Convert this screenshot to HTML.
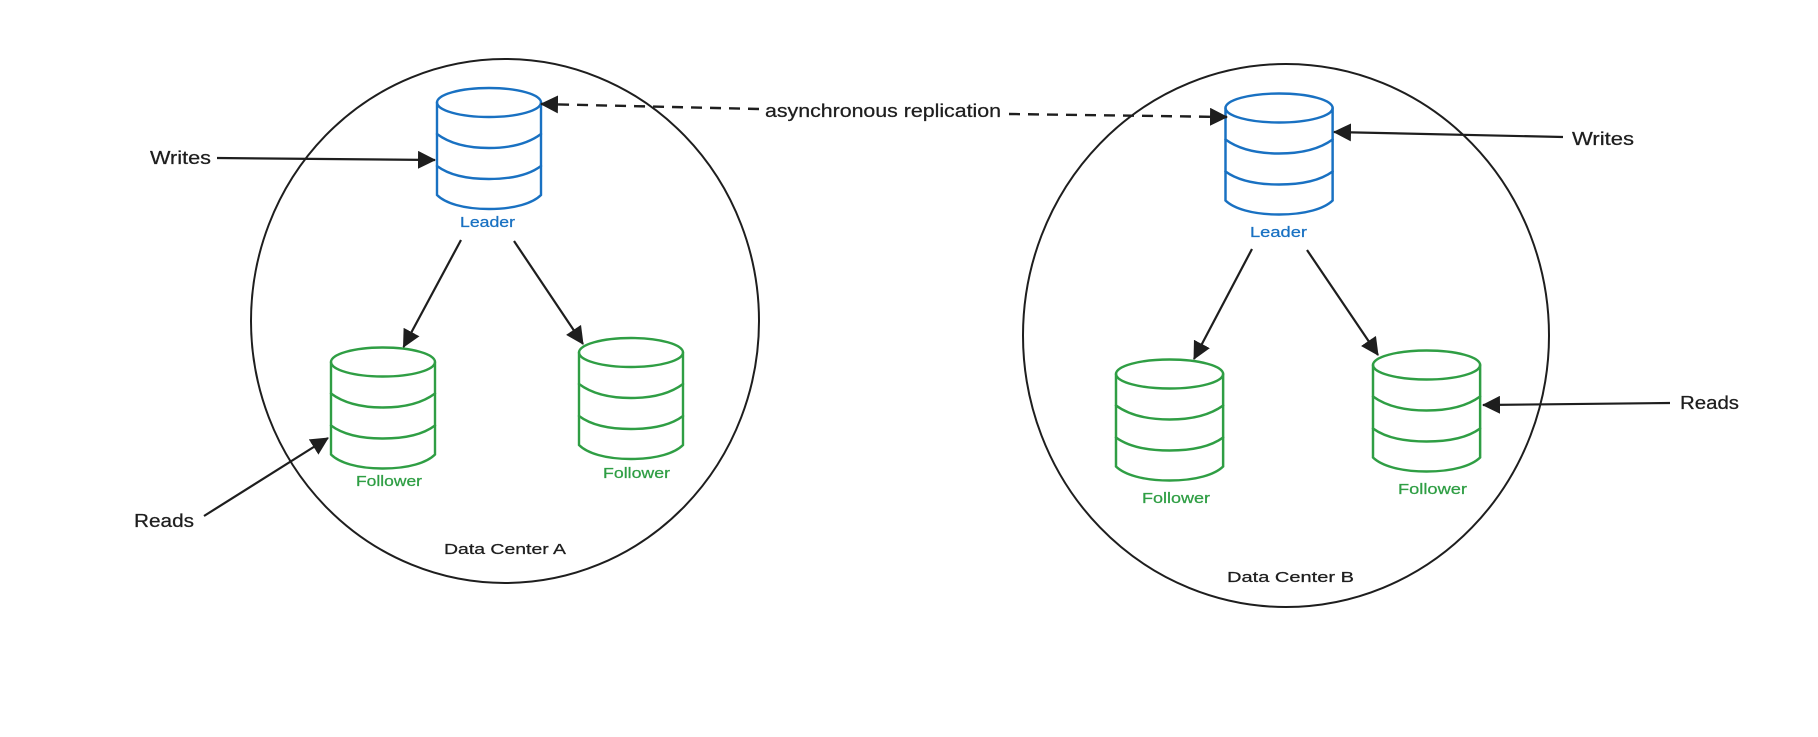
<!DOCTYPE html>
<html>
<head>
<meta charset="utf-8">
<style>
html,body{margin:0;padding:0;background:#fff;width:1818px;height:737px;overflow:hidden}
svg{display:block}
text{font-family:"Liberation Sans",sans-serif;fill:#1e1e1e;stroke:currentColor;stroke-width:.25px}
</style>
</head>
<body>
<svg xmlns="http://www.w3.org/2000/svg" width="1818" height="737" viewBox="0 0 1818 737">
<defs>
<marker id="a" markerUnits="userSpaceOnUse" markerWidth="19" markerHeight="18" refX="17" refY="9" orient="auto"><path d="M0 0L18 9L0 18Z" fill="#1e1e1e"/></marker>
<g id="cyl" fill="none" stroke-width="2.400" stroke-linecap="round">
<ellipse cx="52" cy="14.500" rx="52" ry="14.500"/>
<path d="M0 14.500V107C8 115 26 121 52 121C78 121 96 115 104 107V14.500"/>
<path d="M0 46C12 55 30 60 52 60C74 60 92 55 104 46"/>
<path d="M0 78C12 87 30 91 52 91C74 91 92 87 104 78"/>
</g>
</defs>
<g fill="none" stroke="#1e1e1e" stroke-width="2">
<ellipse cx="505" cy="321" rx="254" ry="262"/>
<ellipse cx="1286" cy="335.500" rx="263" ry="271.500"/>
</g>
<use href="#cyl" x="437" y="88" stroke="#1971c2"/>
<use href="#cyl" transform="translate(1225.500 93.500) scale(1.03 1)" stroke="#1971c2"/>
<use href="#cyl" x="331" y="347.500" stroke="#2f9e44"/>
<use href="#cyl" x="579" y="338" stroke="#2f9e44"/>
<use href="#cyl" transform="translate(1116 359.500) scale(1.03 1)" stroke="#2f9e44"/>
<use href="#cyl" transform="translate(1373 350.500) scale(1.03 1)" stroke="#2f9e44"/>
<g fill="none" stroke="#1e1e1e" stroke-width="2.200">
<path d="M217 158L435 160" marker-end="url(#a)"/>
<path d="M461 240L403.500 347" marker-end="url(#a)"/>
<path d="M514 241L583 344" marker-end="url(#a)"/>
<path d="M204 516L328 438" marker-end="url(#a)"/>
<path d="M1563 137L1334 132" marker-end="url(#a)"/>
<path d="M1252 249L1194 359" marker-end="url(#a)"/>
<path d="M1307 250L1378 355" marker-end="url(#a)"/>
<path d="M1670 403L1483 405" marker-end="url(#a)"/>
</g>
<g fill="none" stroke="#1e1e1e" stroke-width="2.400" stroke-dasharray="11 8">
<path d="M759 109L541 104" marker-end="url(#a)"/>
<path d="M1009 114L1227 117" marker-end="url(#a)"/>
</g>
<g font-size="18">
<text x="150" y="164" textLength="61" lengthAdjust="spacingAndGlyphs" style="color:#1e1e1e">Writes</text>
<text x="134" y="527" textLength="60" lengthAdjust="spacingAndGlyphs" style="color:#1e1e1e">Reads</text>
<text x="1572" y="145" textLength="62" lengthAdjust="spacingAndGlyphs" style="color:#1e1e1e">Writes</text>
<text x="1680" y="409" textLength="59" lengthAdjust="spacingAndGlyphs" style="color:#1e1e1e">Reads</text>
<text x="765" y="117" textLength="236" lengthAdjust="spacingAndGlyphs" style="color:#1e1e1e">asynchronous replication</text>
</g>
<g font-size="15">
<text x="444" y="554" textLength="122" lengthAdjust="spacingAndGlyphs" style="color:#1e1e1e">Data Center A</text>
<text x="1227" y="582" textLength="127" lengthAdjust="spacingAndGlyphs" style="color:#1e1e1e">Data Center B</text>
<text x="460" y="227" textLength="55" lengthAdjust="spacingAndGlyphs" style="fill:#1971c2;color:#1971c2">Leader</text>
<text x="1250" y="237" textLength="57" lengthAdjust="spacingAndGlyphs" style="fill:#1971c2;color:#1971c2">Leader</text>
<text x="356" y="486" textLength="66" lengthAdjust="spacingAndGlyphs" style="fill:#2f9e44;color:#2f9e44">Follower</text>
<text x="603" y="478" textLength="67" lengthAdjust="spacingAndGlyphs" style="fill:#2f9e44;color:#2f9e44">Follower</text>
<text x="1142" y="503" textLength="68" lengthAdjust="spacingAndGlyphs" style="fill:#2f9e44;color:#2f9e44">Follower</text>
<text x="1398" y="494" textLength="69" lengthAdjust="spacingAndGlyphs" style="fill:#2f9e44;color:#2f9e44">Follower</text>
</g>
</svg>
</body>
</html>
